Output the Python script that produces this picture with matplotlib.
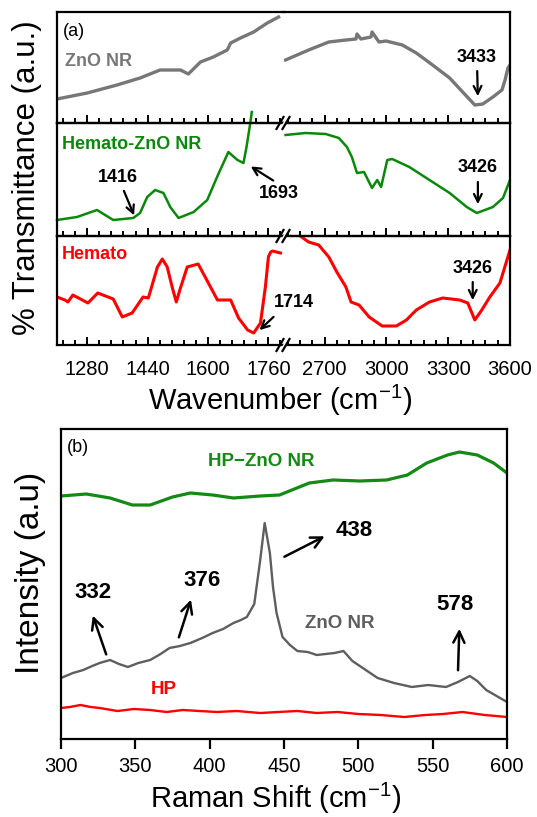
import numpy as np
import matplotlib.pyplot as plt
from matplotlib.ticker import MultipleLocator

plt.rcParams['font.family'] = ['Liberation Sans', 'DejaVu Sans']
plt.rcParams['mathtext.fontset'] = 'custom'
plt.rcParams['mathtext.rm'] = 'Liberation Sans'
plt.rcParams['mathtext.it'] = 'Liberation Sans:italic'

# ---- FTIR (a): two wavenumber pieces, 1200-1800 and 2500-3600 ----
zno_w1 = [1200, 1280, 1359, 1420, 1473, 1527, 1548, 1580, 1614, 1651, 1660, 1686, 1721, 1757, 1787]
zno_t1 = [24, 30, 38, 45, 53, 53, 49, 61, 66, 73, 80, 85, 91, 100, 106]
zno_w2 = [2510, 2622, 2720, 2803, 2852, 2857, 2876, 2925, 2930, 2964, 2998, 3077, 3145,
          3224, 3307, 3370, 3429, 3468, 3517, 3561, 3576, 3590, 3600]
zno_t2 = [63, 73, 81, 83, 84, 89, 84, 86, 91, 81, 82, 78, 70, 58, 45, 31, 18, 19, 26, 33, 43, 55, 58]

hz_w1 = [1200, 1253, 1306, 1349, 1402, 1420, 1439, 1460, 1482, 1500, 1522, 1562, 1598,
         1624, 1654, 1678, 1694, 1702, 1712, 1716]
hz_t1 = [16, 19, 26, 16, 18, 23, 39, 46, 43, 29, 18, 24, 36, 59, 84, 76, 73, 89, 113, 124]
hz_w2 = [2510, 2607, 2705, 2769, 2808, 2832, 2857, 2891, 2930, 2955, 2974, 3004, 3028,
         3111, 3209, 3307, 3390, 3439, 3517, 3566, 3600]
hz_t2 = [101, 103, 102, 98, 89, 79, 63, 64, 48, 56, 49, 76, 77, 69, 56, 43, 29, 23, 29, 38, 56]

hem_w1 = [1200, 1221, 1229, 1242, 1282, 1308, 1349, 1373, 1399, 1428, 1442, 1466, 1479,
          1492, 1505, 1516, 1527, 1545, 1574, 1601, 1625, 1660, 1681, 1705, 1721, 1739,
          1752, 1760, 1766, 1771, 1792]
hem_t1 = [48, 45, 43, 50, 42, 52, 46, 28, 32, 48, 47, 78, 86, 78, 58, 43, 57, 78, 81, 62,
          45, 45, 27, 15, 12, 22, 58, 88, 93, 94, 92]
hem_w2 = [2588, 2622, 2671, 2720, 2759, 2803, 2828, 2867, 2916, 2979, 3048, 3097, 3145,
          3209, 3273, 3356, 3395, 3429, 3463, 3502, 3551, 3600]
hem_t2 = [108, 103, 100, 88, 73, 58, 43, 40, 28, 19, 19, 25, 35, 43, 47, 45, 42, 25, 35,
          48, 62, 95]

# ---- Raman (b) ----
hpzno_x = [300, 317, 333, 348, 360, 375, 387, 402, 416, 434, 447, 467, 483, 501, 519,
           533, 546, 560, 568, 580, 591, 600]
hpzno_y = [243, 245, 241, 234, 234, 242, 246, 244, 241, 243, 244, 256, 259, 258, 259,
           264, 276, 284, 287, 284, 276, 266]
znor_x = [300, 308, 315, 321, 326, 333, 339, 345, 352, 360, 367, 373, 380, 387, 395, 402,
          409, 416, 421, 425, 430, 434, 437, 440.5, 442.6, 445, 449, 454, 459, 466, 472,
          478, 484, 490, 496, 504, 513, 524, 536, 547, 559, 567, 575, 580, 586, 593, 600]
znor_y = [61, 66, 69, 73, 76, 79, 75, 72, 76, 79, 85, 91, 93, 96, 101, 106, 110, 116, 119,
          122, 135, 179, 216, 186, 152, 126, 102, 94, 88, 87, 84, 85, 86, 88, 78, 70, 61,
          56, 52, 54, 52, 57, 63, 58, 49, 43, 37]
hp_x = [300, 306, 313, 320, 326, 338, 349, 360, 371, 382, 393, 405, 418, 434, 446, 459,
        472, 486, 500, 515, 531, 545, 557, 570, 585, 600]
hp_y = [31, 32, 34, 32, 31, 28, 30, 29, 27, 29, 28, 27, 28, 26, 27, 28, 26, 27, 25, 24,
        22, 24, 25, 27, 24, 22]

W, H = 537, 817
fig = plt.figure(figsize=(W / 100, H / 100), dpi=100)

GRAY_A = '#777777'
GREEN = '#0a880a'
RED = '#ff0000'


def px_axes(x0, y0, x1, y1):
    return fig.add_axes([x0 / W, 1 - y1 / H, (x1 - x0) / W, (y1 - y0) / H])


xl, xb, xr = 57, 283.5, 510
rows = [(12, 123, 111), (123, 236, 113), (236, 345, 109)]
series = [(zno_w1, zno_t1, zno_w2, zno_t2, GRAY_A, 2.4),
          (hz_w1, hz_t1, hz_w2, hz_t2, GREEN, 1.8),
          (hem_w1, hem_t1, hem_w2, hem_t2, RED, 2.2)]
axes_a = []
for i, ((ytop, ybot, ymax), (w1, t1, w2, t2, col, lw)) in enumerate(zip(rows, series)):
    a1 = px_axes(xl, ytop, xb, ybot)
    a2 = px_axes(xb, ytop, xr, ybot)
    for ax in (a1, a2):
        ax.set_facecolor('none')
        ax.set_ylim(0, ymax)
        ax.set_yticks([])
        for s in ax.spines.values():
            s.set_linewidth(1.6)
        ax.tick_params(axis='x', which='both', direction='in', top=False, width=1.4,
                       labelsize=14.5, pad=10.5, labelbottom=(i == 2))
        ax.tick_params(axis='x', which='major', length=6)
        ax.tick_params(axis='x', which='minor', length=3.5)
    a1.spines['right'].set_visible(False)
    a2.spines['left'].set_visible(False)
    a1.set_xlim(1200, 1800)
    a1.set_xticks([1280, 1440, 1600, 1760])
    a1.xaxis.set_minor_locator(MultipleLocator(32))
    a2.set_xlim(2500, 3600)
    a2.set_xticks([2700, 3000, 3300, 3600])
    a2.xaxis.set_minor_locator(MultipleLocator(60))
    a1.plot(w1, t1, color=col, lw=lw, clip_on=(i != 1))
    a2.plot(w2, t2, color=col, lw=lw)
    axes_a.append((a1, a2))

arw = dict(arrowstyle='->', color='black', lw=1.6, mutation_scale=14)
bold_a = dict(fontsize=13, fontweight='bold', ha='center', va='center')

(a1, a2) = axes_a[0]
a1.text(0.027, 0.82, '(a)', transform=a1.transAxes, fontsize=13, va='center')
a1.text(0.035, 0.55, 'ZnO NR', transform=a1.transAxes, fontsize=13, fontweight='bold',
        color=GRAY_A, va='center')
a2.annotate('3433', xy=(3444, 24), xytext=(3439, 66), arrowprops=arw, **bold_a)

(a1, a2) = axes_a[1]
a1.text(0.022, 0.81, 'Hemato-ZnO NR', transform=a1.transAxes, fontsize=13,
        fontweight='bold', color=GREEN, va='center')
a1.annotate('1416', xy=(1407, 18), xytext=(1362, 59), arrowprops=arw, **bold_a)
a1.annotate('', xy=(1707, 71), xytext=(1779, 54), arrowprops=arw)
a1.text(1787, 43, '1693', **bold_a)
a2.annotate('3426', xy=(3444, 29), xytext=(3444, 68), arrowprops=arw, **bold_a)

(a1, a2) = axes_a[2]
a1.text(0.022, 0.83, 'Hemato', transform=a1.transAxes, fontsize=13, fontweight='bold',
        color=RED, va='center')
a1.annotate('', xy=(1731, 13), xytext=(1779, 30), arrowprops=arw)
a1.text(1827, 43, '1714', **bold_a)
a2.annotate('3426', xy=(3419, 42), xytext=(3419, 77), arrowprops=arw, **bold_a)

# ---- panel (b) ----
ab = px_axes(61, 429, 507, 739)
ab.plot(hpzno_x, hpzno_y, color='#138a13', lw=2.3)
ab.plot(znor_x, znor_y, color='#5e5e5e', lw=1.7)
ab.plot(hp_x, hp_y, color=RED, lw=1.7)
ab.set_xlim(300, 600)
ab.set_ylim(0, 310)
ab.set_yticks([])
ab.xaxis.set_major_locator(MultipleLocator(50))
ab.tick_params(axis='x', direction='out', length=7, width=1.6, labelsize=14.5, pad=6)
for s in ab.spines.values():
    s.set_linewidth(1.6)

bold_b = dict(fontsize=16, fontweight='bold', ha='center', va='center')
ab.text(0.013, 0.94, '(b)', transform=ab.transAxes, fontsize=13, va='center')
ab.text(434.5, 277, 'HP\u2212ZnO NR', fontsize=13.5, fontweight='bold', color='#138a13',
        ha='center', va='center')
ab.text(487.6, 116, 'ZnO NR', fontsize=13.5, fontweight='bold', color='#5e5e5e',
        ha='center', va='center')
ab.text(369, 49, 'HP', fontsize=13.5, fontweight='bold', color=RED, ha='center', va='center')
arw_b = dict(arrowstyle='->', color='black', lw=1.8, mutation_scale=20)
ab.annotate('', xy=(320.8, 126), xytext=(331, 82), arrowprops=arw_b)
ab.text(321.5, 146, '332', **bold_b)
ab.annotate('', xy=(388, 142), xytext=(378.7, 99), arrowprops=arw_b)
ab.text(394.8, 159, '376', **bold_b)
ab.annotate('', xy=(479, 204), xytext=(448.6, 181), arrowprops=arw_b)
ab.text(497, 208, '438', **bold_b)
ab.annotate('', xy=(568, 113), xytext=(567, 66), arrowprops=arw_b)
ab.text(565, 134, '578', **bold_b)

# axis titles
fig.text(27 / W, 1 - 178 / H, '% Transmittance (a.u.)', rotation=90, fontsize=22.5,
         ha='center', va='center')
fig.text(280 / W, 1 - 400 / H, 'Wavenumber (cm$^{-1}$)', fontsize=21, ha='center', va='center')
fig.text(31 / W, 1 - 573 / H, 'Intensity (a.u)', rotation=90, fontsize=24,
         ha='center', va='center')
fig.text(276 / W, 1 - 798 / H, 'Raman Shift (cm$^{-1}$)', fontsize=21, ha='center', va='center')

# break marks on the wavenumber axis
ov = fig.add_axes([0, 0, 1, 1], zorder=10)
ov.set_xlim(0, W)
ov.set_ylim(H, 0)
ov.axis('off')
ov.set_facecolor('none')
for _, ybot, _ in rows:
    ov.fill([279.5, 286.5, 289.5, 282.5], [ybot + 6, ybot - 6, ybot - 6, ybot + 6],
            color='white', lw=0)
    ov.plot([276.5, 283.5], [ybot + 6, ybot - 6], color='black', lw=1.6)
    ov.plot([282.5, 289.5], [ybot + 6, ybot - 6], color='black', lw=1.6)

fig.savefig('out.png', dpi=100)
